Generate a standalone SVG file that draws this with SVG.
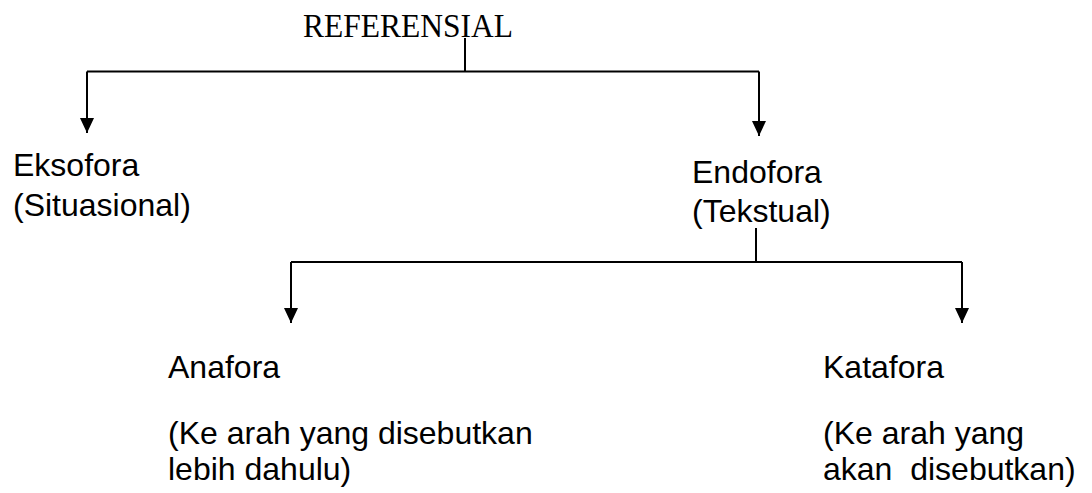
<svg xmlns="http://www.w3.org/2000/svg" width="1092" height="493" viewBox="0 0 1092 493">
<style>
.t{font-family:"Liberation Sans",Arial,sans-serif;font-size:32px;fill:#000;white-space:pre}
.r{font-family:"Liberation Serif","Times New Roman",serif;font-size:33px;fill:#000}
.c{fill:none;stroke:#000;stroke-width:2}
</style>
<defs>
<marker id="ah" markerUnits="userSpaceOnUse" markerWidth="16" markerHeight="16" refX="15" refY="0" viewBox="0 -8 16 16" orient="auto" overflow="visible">
<path d="M0,-7 L15,0 L0,7 z" fill="#000"/>
</marker>
</defs>
<rect width="1092" height="493" fill="#fff"/>
<g id="connectors">
<path class="c" d="M465,38 V71.5"/>
<path class="c" d="M87,71.5 H759"/>
<path class="c" d="M87,71.5 V133" marker-end="url(#ah)"/>
<path class="c" d="M759,71.5 V136" marker-end="url(#ah)"/>
<path class="c" d="M756,228 V262"/>
<path class="c" d="M291,262 H962"/>
<path class="c" d="M291,262 V323" marker-end="url(#ah)"/>
<path class="c" d="M962,262 V323" marker-end="url(#ah)"/>
</g>
<g id="referensial">
<text class="r" x="303" y="37" textLength="210" lengthAdjust="spacingAndGlyphs">REFERENSIAL</text>
</g>
<g id="eksofora">
<text class="t" x="13" y="176">Eksofora</text>
<text class="t" x="13" y="216">(Situasional)</text>
</g>
<g id="endofora">
<text class="t" x="692" y="183">Endofora</text>
<text class="t" x="692" y="222">(Tekstual)</text>
</g>
<g id="anafora">
<text class="t" x="168" y="378">Anafora</text>
<text class="t" x="168" y="444">(Ke arah yang disebutkan</text>
<text class="t" x="168" y="480">lebih dahulu)</text>
</g>
<g id="katafora">
<text class="t" x="823" y="378">Katafora</text>
<text class="t" x="823" y="444">(Ke arah yang</text>
<text class="t" x="823" y="480">akan  disebutkan)</text>
</g>
</svg>
